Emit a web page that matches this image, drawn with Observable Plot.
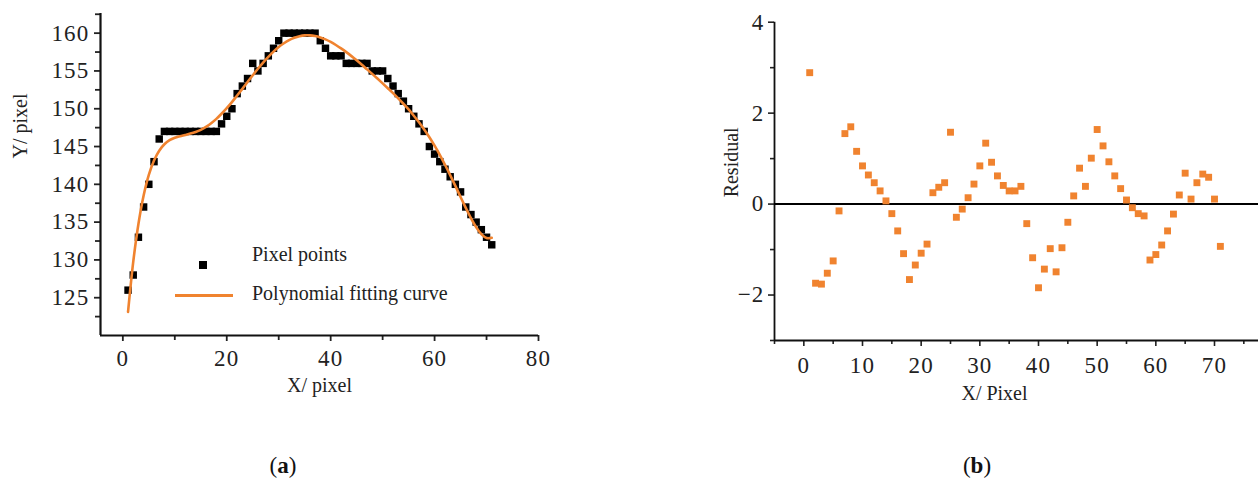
<!DOCTYPE html>
<html>
<head>
<meta charset="utf-8">
<script src="https://cdn.jsdelivr.net/npm/d3@7"></script>
<script src="https://cdn.jsdelivr.net/npm/@observablehq/plot@0.6"></script>
<style>
  html, body { margin: 0; padding: 0; background: #fff; }
  #fig { position: relative; width: 1260px; height: 487px; font-family: "Liberation Serif", "Times New Roman", serif; color: #222; }
  #pa { position: absolute; left: 0; top: 0; }
  #pb { position: absolute; left: 630px; top: 0; }
  #fig g[aria-label="x-axis tick label"] text,
  #fig g[aria-label="y-axis tick label"] text { letter-spacing: 1.2px; }
  .leg { position: absolute; font-size: 20px; line-height: 1; white-space: nowrap; color: #222; }
  .cap { position: absolute; font-size: 23px; transform: translate(-50%, -50%); color: #111; }
</style>
</head>
<body>
<div id="fig">
  <div id="pa"></div>
  <div id="pb"></div>
  <div class="leg" style="left:199px; top:261px; width:8px; height:8px; background:#000;"></div>
  <div class="leg" style="left:252px; top:244px;">Pixel points</div>
  <div class="leg" style="left:175px; top:293.5px; width:58px; height:3px; background:#F0832F;"></div>
  <div class="leg" style="left:252px; top:283px;">Polynomial fitting curve</div>
  <div class="cap" style="left:283px; top:466px;">(<b>a</b>)</div>
  <div class="cap" style="left:977px; top:466px;">(<b>b</b>)</div>
</div>
<script>
// ---- data ----
const pixelX = [1,2,3,4,5,6,7,8,9,10,11,12,13,14,15,16,17,18,19,20,21,22,23,24,25,26,27,28,29,30,31,32,33,34,35,36,37,38,39,40,41,42,43,44,45,46,47,48,49,50,51,52,53,54,55,56,57,58,59,60,61,62,63,64,65,66,67,68,69,70,71];
const pixelY = [126,128,133,137,140,143,146,147,147,147,
                147,147,147,147,147,147,147,147,148,149,
                150,152,153,154,156,155,156,157,158,159,
                160,160,160,160,160,160,160,159,158,157,
                157,157,156,156,156,156,156,155,155,155,
                154,153,152,151,150,149,148,147,145,144,
                143,142,141,140,139,137,136,135,134,133,132];
const fitY = [123.11,129.74,134.76,138.52,141.25,143.15,144.45,145.30,145.84,146.16,
              146.36,146.53,146.71,146.93,147.21,147.59,148.09,148.66,149.34,150.08,
              150.88,151.75,152.63,153.53,154.42,155.29,156.11,156.86,157.56,158.16,
              158.66,159.08,159.38,159.59,159.71,159.71,159.61,159.43,159.18,158.84,
              158.43,157.98,157.49,156.96,156.40,155.82,155.21,154.61,153.99,153.36,
              152.72,152.07,151.38,150.66,149.91,149.08,148.21,147.26,146.23,145.11,
              143.90,142.59,141.22,139.80,138.32,136.89,135.53,134.34,133.41,132.89,132.93];
const residual = [2.89,-1.74,-1.76,-1.52,-1.25,-0.15,1.55,1.70,1.16,0.84,
                  0.64,0.47,0.29,0.07,-0.21,-0.59,-1.09,-1.66,-1.34,-1.08,
                  -0.88,0.25,0.37,0.47,1.58,-0.29,-0.11,0.14,0.44,0.84,
                  1.34,0.92,0.62,0.41,0.29,0.29,0.39,-0.43,-1.18,-1.84,
                  -1.43,-0.98,-1.49,-0.96,-0.40,0.18,0.79,0.39,1.01,1.64,
                  1.28,0.93,0.62,0.34,0.09,-0.08,-0.21,-0.26,-1.23,-1.11,
                  -0.90,-0.59,-0.22,0.20,0.68,0.11,0.47,0.66,0.59,0.11,-0.93];
// tick labels
const aXTicks = [0,20,40,60,80];
const aXMinor = [10,30,50,70];
const aYTicks = [125,130,135,140,145,150,155,160];
const aYMinor = [122.5,127.5,132.5,137.5,142.5,147.5,152.5,157.5,162.5];
const bXTicks = [0,10,20,30,40,50,60,70];
const bXMinor = [-5,5,15,25,35,45,55,65,75];
const bYTicks = [-2,0,2,4];
const bYMinor = [-3,-1,1,3];
const aDomX = [-4.3, 80], aDomY = [120, 162.6];
const bDomX = [-5, 77.5], bDomY = [-3, 4];

const ptsA = pixelX.map((x, i) => ({x, y: pixelY[i], fit: fitY[i]}));
const ptsB = pixelX.map((x, i) => ({x, r: residual[i]}));
const ORANGE = "#F0832F";
const minus = d => d < 0 ? "\u2212" + Math.abs(d) : String(d);

const chartA = Plot.plot({
  width: 630, height: 425,
  marginLeft: 100, marginRight: 92, marginTop: 13, marginBottom: 90,
  x: {domain: aDomX}, y: {domain: aDomY},
  style: {fontFamily: "Liberation Serif", fontSize: "23px", color: "#222", background: "transparent"},
  marks: [
    Plot.axisX({ticks: aXTicks, tickSize: 6, tickPadding: 8, strokeWidth: 1.8, label: null, fontSize: 23}),
    Plot.axisX({ticks: aXMinor, tickSize: 5, strokeWidth: 1.8, tickFormat: () => "", label: null}),
    Plot.axisY({ticks: aYTicks, tickSize: 6, tickPadding: 5, strokeWidth: 1.8, label: null, fontSize: 23}),
    Plot.axisY({ticks: aYMinor, tickSize: 5, strokeWidth: 1.8, tickFormat: () => "", label: null}),
    Plot.ruleX([aDomX[0]], {stroke: "#111", strokeWidth: 2.2}),
    Plot.ruleY([aDomY[0]], {stroke: "#111", strokeWidth: 2.2}),
    Plot.dot(ptsA, {x: "x", y: "y", symbol: "square", r: 4.2, fill: "#000", stroke: "none"}),
    Plot.line(ptsA, {x: "x", y: "fit", stroke: ORANGE, strokeWidth: 2.6, curve: "catmull-rom"}),
    Plot.text(["X/ pixel"], {frameAnchor: "bottom", lineAnchor: "middle", dy: 50, fontSize: 20, fill: "#222"}),
    Plot.text(["Y/ pixel"], {frameAnchor: "left", lineAnchor: "middle", dx: -80, dy: -16, rotate: -90, fontSize: 20, fill: "#222"})
  ]
});
document.getElementById("pa").appendChild(chartA);

const chartB = Plot.plot({
  width: 630, height: 425,
  marginLeft: 144, marginRight: 2, marginTop: 21.7, marginBottom: 85,
  x: {domain: bDomX}, y: {domain: bDomY},
  style: {fontFamily: "Liberation Serif", fontSize: "23px", color: "#222", background: "transparent"},
  marks: [
    Plot.axisX({ticks: bXTicks, tickSize: 6, tickPadding: 10, strokeWidth: 1.6, label: null, fontSize: 23}),
    Plot.axisX({ticks: bXMinor, tickSize: 4, strokeWidth: 1.6, tickFormat: () => "", label: null}),
    Plot.axisY({ticks: bYTicks, tickSize: 6, tickPadding: 4, strokeWidth: 1.6, tickFormat: minus, label: null, fontSize: 23}),
    Plot.axisY({ticks: bYMinor, tickSize: 4, strokeWidth: 1.6, tickFormat: () => "", label: null}),
    Plot.ruleX([bDomX[0]], {y1: bDomY[0], y2: bDomY[1], stroke: "#111", strokeWidth: 1.8}),
    Plot.ruleY([bDomY[0]], {stroke: "#111", strokeWidth: 1.8}),
    Plot.ruleY([0], {stroke: "#000", strokeWidth: 2}),
    Plot.dot(ptsB, {x: "x", y: "r", symbol: "square", r: 3.9, fill: ORANGE, stroke: "none"}),
    Plot.text(["X/ Pixel"], {frameAnchor: "bottom", lineAnchor: "middle", dx: -22, dy: 53, fontSize: 20, fill: "#222"}),
    Plot.text(["Residual"], {frameAnchor: "left", lineAnchor: "middle", dx: -43, dy: 16, rotate: -90, fontSize: 20, fill: "#222"})
  ]
});
document.getElementById("pb").appendChild(chartB);
</script>
</body>
</html>
